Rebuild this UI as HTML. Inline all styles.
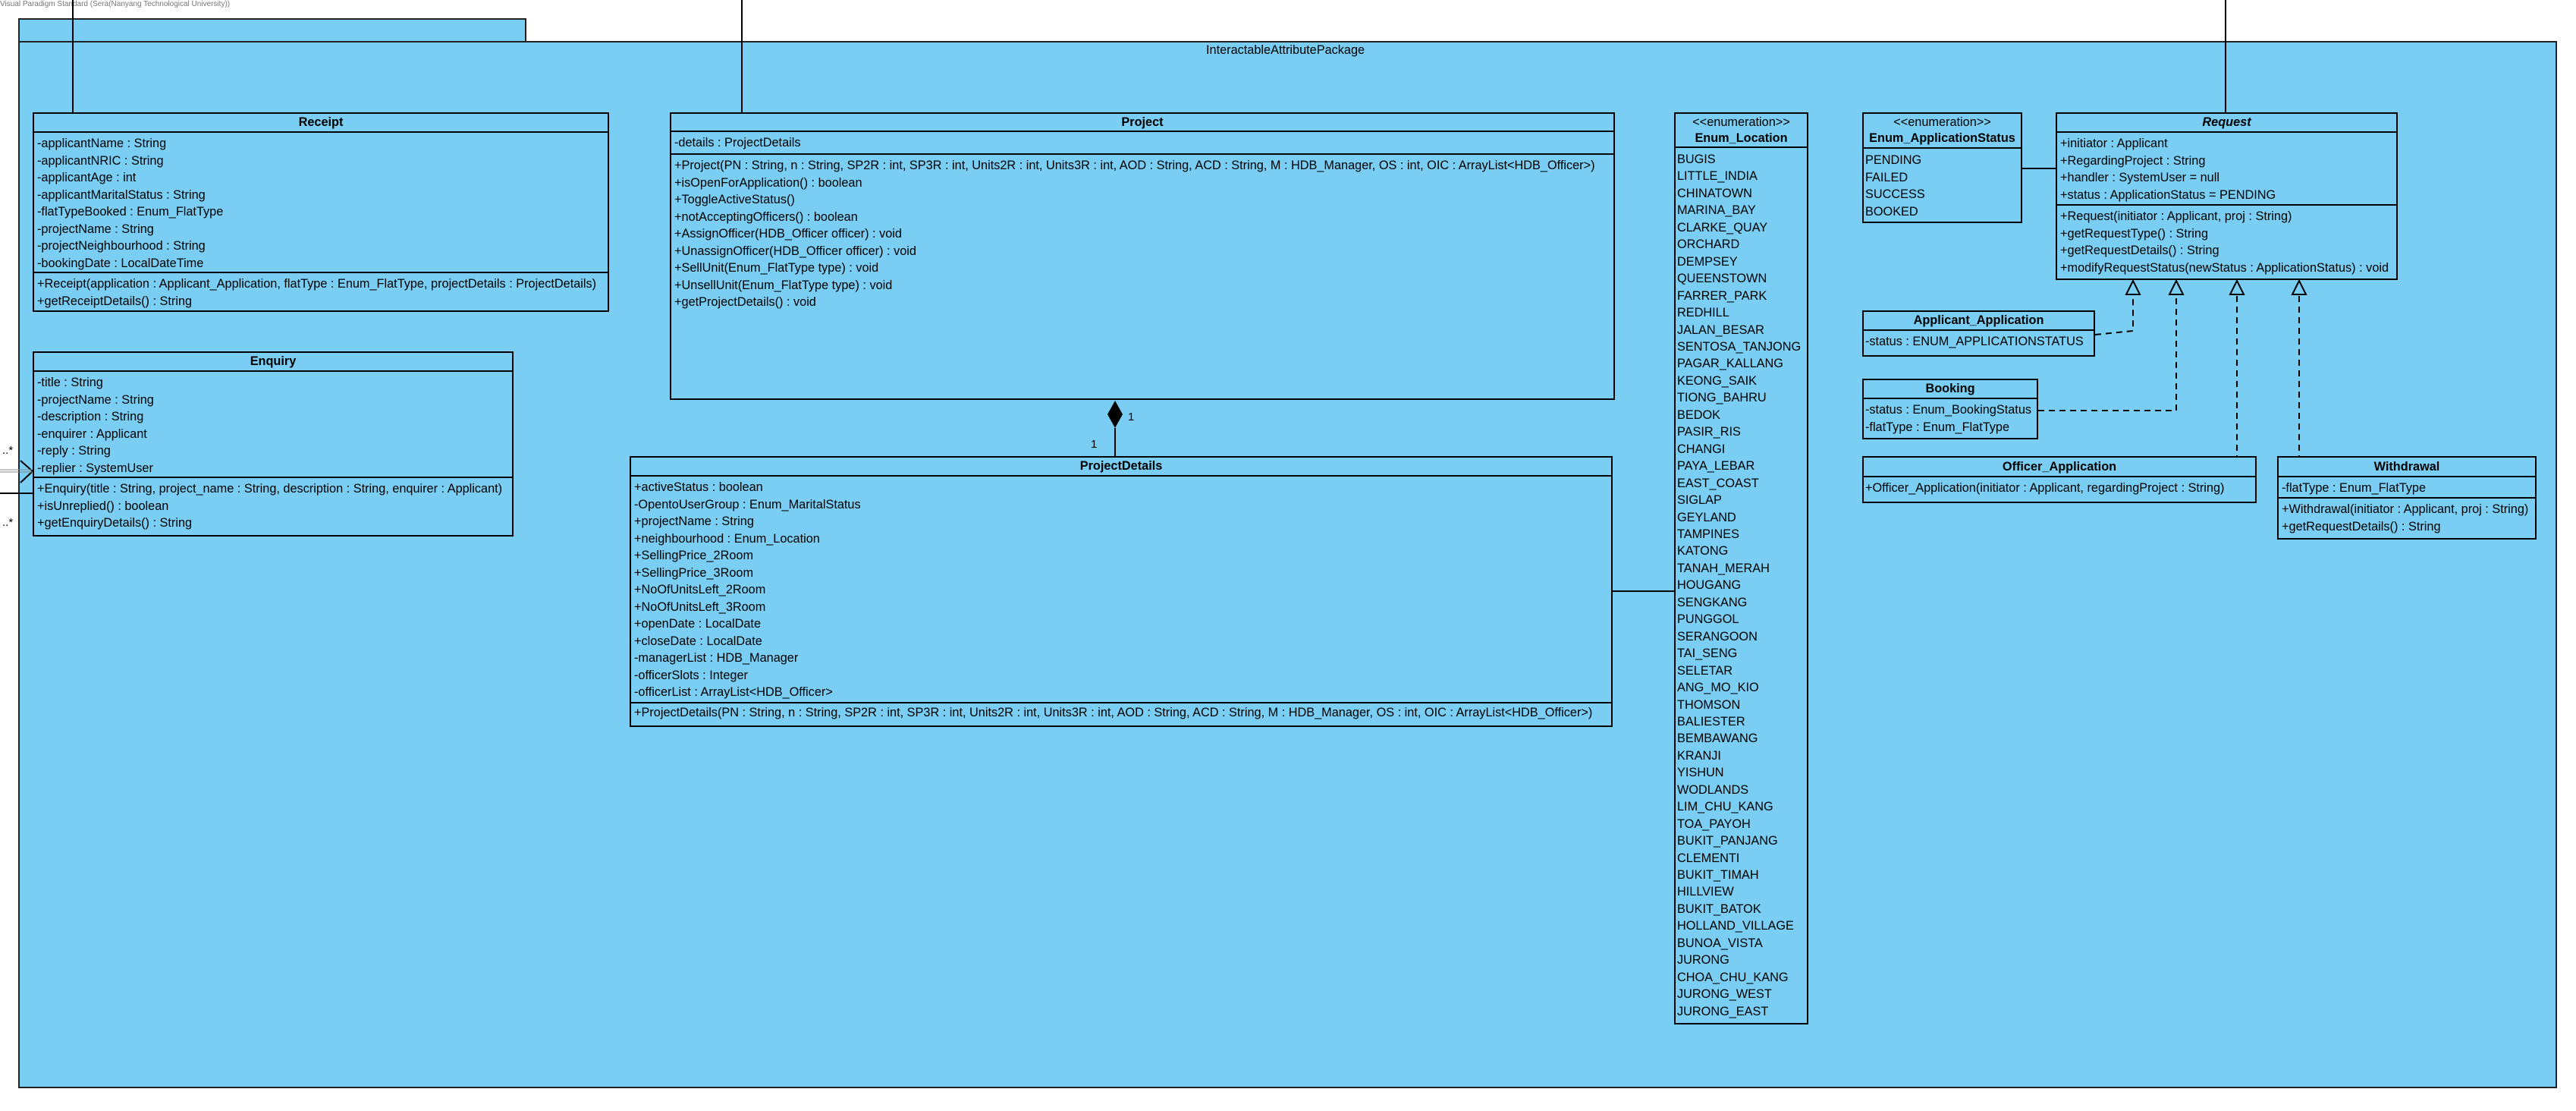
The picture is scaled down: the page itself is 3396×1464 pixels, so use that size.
<!DOCTYPE html>
<html><head><meta charset="utf-8"><style>
body{margin:0;width:3396px;height:1464px;background:#fff;position:relative;overflow:hidden;font-family:"Liberation Sans",Arial,sans-serif;font-size:16.3px;color:#000}
.pk{position:absolute;background:#7ACEF4;border:2px solid #222;box-sizing:border-box}
.b{position:absolute;background:#7ACEF4;border:2px solid #000;box-sizing:border-box}
.h{box-sizing:border-box;border-bottom:2px solid #000;text-align:center;font-weight:bold;white-space:nowrap}
.s{box-sizing:border-box;border-bottom:2px solid #000;padding:3px 0 0 4px;line-height:22.5px;white-space:nowrap}
.l{box-sizing:border-box;padding:3px 0 0 4px;line-height:22.5px;white-space:nowrap}
.lab{position:absolute;white-space:nowrap}
</style></head><body>
<div class="lab" style="left:0;top:0;font-size:10px;color:#777;">Visual Paradigm Standard (Sera(Nanyang Technological University))</div>
<div class="pk" style="left:24px;top:24px;width:670px;height:32px;"></div>
<div class="pk" style="left:24px;top:54px;width:3347px;height:1380px;"></div>
<div class="lab" style="left:1590px;top:57px;">InteractableAttributePackage</div>

<!-- Receipt -->
<div class="b" style="left:43px;top:148px;width:760px;height:263px;">
<div class="h" style="height:25px;line-height:23px;">Receipt</div>
<div class="s" style="height:185px;">-applicantName : String<br>-applicantNRIC : String<br>-applicantAge : int<br>-applicantMaritalStatus : String<br>-flatTypeBooked : Enum_FlatType<br>-projectName : String<br>-projectNeighbourhood : String<br>-bookingDate : LocalDateTime</div>
<div class="l">+Receipt(application : Applicant_Application, flatType : Enum_FlatType, projectDetails : ProjectDetails)<br>+getReceiptDetails() : String</div>
</div>

<!-- Enquiry -->
<div class="b" style="left:43px;top:463px;width:634px;height:244px;">
<div class="h" style="height:25px;line-height:23px;">Enquiry</div>
<div class="s" style="height:140px;">-title : String<br>-projectName : String<br>-description : String<br>-enquirer : Applicant<br>-reply : String<br>-replier : SystemUser</div>
<div class="l">+Enquiry(title : String, project_name : String, description : String, enquirer : Applicant)<br>+isUnreplied() : boolean<br>+getEnquiryDetails() : String</div>
</div>

<!-- Project -->
<div class="b" style="left:883px;top:148px;width:1246px;height:379px;">
<div class="h" style="height:24px;line-height:22px;">Project</div>
<div class="s" style="height:30px;">-details : ProjectDetails</div>
<div class="l">+Project(PN : String, n : String, SP2R : int, SP3R : int, Units2R : int, Units3R : int, AOD : String, ACD : String, M : HDB_Manager, OS : int, OIC : ArrayList&lt;HDB_Officer&gt;)<br>+isOpenForApplication() : boolean<br>+ToggleActiveStatus()<br>+notAcceptingOfficers() : boolean<br>+AssignOfficer(HDB_Officer officer) : void<br>+UnassignOfficer(HDB_Officer officer) : void<br>+SellUnit(Enum_FlatType type) : void<br>+UnsellUnit(Enum_FlatType type) : void<br>+getProjectDetails() : void</div>
</div>

<!-- ProjectDetails -->
<div class="b" style="left:830px;top:601px;width:1296px;height:357px;">
<div class="h" style="height:25px;line-height:23px;">ProjectDetails</div>
<div class="s" style="height:299px;">+activeStatus : boolean<br>-OpentoUserGroup : Enum_MaritalStatus<br>+projectName : String<br>+neighbourhood : Enum_Location<br>+SellingPrice_2Room<br>+SellingPrice_3Room<br>+NoOfUnitsLeft_2Room<br>+NoOfUnitsLeft_3Room<br>+openDate : LocalDate<br>+closeDate : LocalDate<br>-managerList : HDB_Manager<br>-officerSlots : Integer<br>-officerList : ArrayList&lt;HDB_Officer&gt;</div>
<div class="l" style="padding-top:1px;">+ProjectDetails(PN : String, n : String, SP2R : int, SP3R : int, Units2R : int, Units3R : int, AOD : String, ACD : String, M : HDB_Manager, OS : int, OIC : ArrayList&lt;HDB_Officer&gt;)</div>
</div>

<!-- Enum_Location -->
<div class="b" style="left:2207px;top:148px;width:177px;height:1202px;">
<div class="h" style="height:45px;line-height:21px;padding-top:1px;"><span style="font-weight:normal">&lt;&lt;enumeration&gt;&gt;</span><br>Enum_Location</div>
<div class="l" style="padding-top:4px;padding-left:2px;line-height:22.45px;">BUGIS<br>LITTLE_INDIA<br>CHINATOWN<br>MARINA_BAY<br>CLARKE_QUAY<br>ORCHARD<br>DEMPSEY<br>QUEENSTOWN<br>FARRER_PARK<br>REDHILL<br>JALAN_BESAR<br>SENTOSA_TANJONG<br>PAGAR_KALLANG<br>KEONG_SAIK<br>TIONG_BAHRU<br>BEDOK<br>PASIR_RIS<br>CHANGI<br>PAYA_LEBAR<br>EAST_COAST<br>SIGLAP<br>GEYLAND<br>TAMPINES<br>KATONG<br>TANAH_MERAH<br>HOUGANG<br>SENGKANG<br>PUNGGOL<br>SERANGOON<br>TAI_SENG<br>SELETAR<br>ANG_MO_KIO<br>THOMSON<br>BALIESTER<br>BEMBAWANG<br>KRANJI<br>YISHUN<br>WODLANDS<br>LIM_CHU_KANG<br>TOA_PAYOH<br>BUKIT_PANJANG<br>CLEMENTI<br>BUKIT_TIMAH<br>HILLVIEW<br>BUKIT_BATOK<br>HOLLAND_VILLAGE<br>BUNOA_VISTA<br>JURONG<br>CHOA_CHU_KANG<br>JURONG_WEST<br>JURONG_EAST</div>
</div>

<!-- Enum_ApplicationStatus -->
<div class="b" style="left:2455px;top:148px;width:211px;height:146px;">
<div class="h" style="height:46px;line-height:21px;padding-top:1px;"><span style="font-weight:normal">&lt;&lt;enumeration&gt;&gt;</span><br>Enum_ApplicationStatus</div>
<div class="l" style="padding-top:4px;padding-left:2px;">PENDING<br>FAILED<br>SUCCESS<br>BOOKED</div>
</div>

<!-- Request -->
<div class="b" style="left:2710px;top:148px;width:451px;height:221px;">
<div class="h" style="height:25px;line-height:23px;font-style:italic;">Request</div>
<div class="s" style="height:96px;">+initiator : Applicant<br>+RegardingProject : String<br>+handler : SystemUser = null<br>+status : ApplicationStatus = PENDING</div>
<div class="l">+Request(initiator : Applicant, proj : String)<br>+getRequestType() : String<br>+getRequestDetails() : String<br>+modifyRequestStatus(newStatus : ApplicationStatus) : void</div>
</div>

<div class="b" style="left:2455px;top:409px;width:307px;height:61px;">
<div class="h" style="height:25px;line-height:23px;">Applicant_Application</div>
<div class="l" style="padding-left:2px;">-status : ENUM_APPLICATIONSTATUS</div>
</div>

<div class="b" style="left:2455px;top:499px;width:232px;height:80px;">
<div class="h" style="height:25px;line-height:23px;">Booking</div>
<div class="l" style="padding-left:2px;">-status : Enum_BookingStatus<br>-flatType : Enum_FlatType</div>
</div>

<div class="b" style="left:2455px;top:601px;width:520px;height:62px;">
<div class="h" style="height:26px;line-height:24px;">Officer_Application</div>
<div class="l" style="padding-left:2px;">+Officer_Application(initiator : Applicant, regardingProject : String)</div>
</div>

<div class="b" style="left:3002px;top:601px;width:342px;height:110px;">
<div class="h" style="height:26px;line-height:24px;">Withdrawal</div>
<div class="s" style="height:28px;">-flatType : Enum_FlatType</div>
<div class="l">+Withdrawal(initiator : Applicant, proj : String)<br>+getRequestDetails() : String</div>
</div>

<svg style="position:absolute;left:0;top:0" width="3396" height="1464">
<g stroke="#000" stroke-width="2" fill="none">
<line x1="96" y1="0" x2="96" y2="148"/>
<line x1="978" y1="0" x2="978" y2="148"/>
<line x1="2934" y1="0" x2="2934" y2="148"/>
<line x1="2665" y1="222" x2="2710" y2="222"/>
<line x1="2125" y1="779" x2="2207" y2="779"/>
<line x1="1470" y1="564" x2="1470" y2="601"/>
<line x1="0" y1="650" x2="43" y2="650"/>
<polyline points="27,607 43,621 27,636"/>
</g>
<line x1="0" y1="619" x2="43" y2="619" stroke="#888" stroke-width="1"/>
<line x1="0" y1="622" x2="43" y2="622" stroke="#888" stroke-width="1"/>
<polygon points="1470,528 1480,546 1470,564 1460,546" fill="#000"/>
<g stroke="#000" stroke-width="2" fill="none" stroke-dasharray="8,6">
<polyline points="2762,441 2812,436 2812,390"/>
<polyline points="2687,541 2869,541 2869,390"/>
<line x1="2949" y1="390" x2="2949" y2="601"/>
<line x1="3031" y1="390" x2="3031" y2="601"/>
</g>
<g stroke="#000" stroke-width="2" fill="#7ACEF4">
<polygon points="2812,370 2803,388 2821,388"/>
<polygon points="2869,370 2860,388 2878,388"/>
<polygon points="2949,370 2940,388 2958,388"/>
<polygon points="3031,370 3022,388 3040,388"/>
</g>
<g font-family="Liberation Sans, Arial, sans-serif" font-size="15" fill="#000">
<text x="1487" y="554">1</text>
<text x="1438" y="590">1</text>
<text x="3" y="598">..*</text>
<text x="3" y="693">..*</text>
</g>
</svg>
</body></html>
